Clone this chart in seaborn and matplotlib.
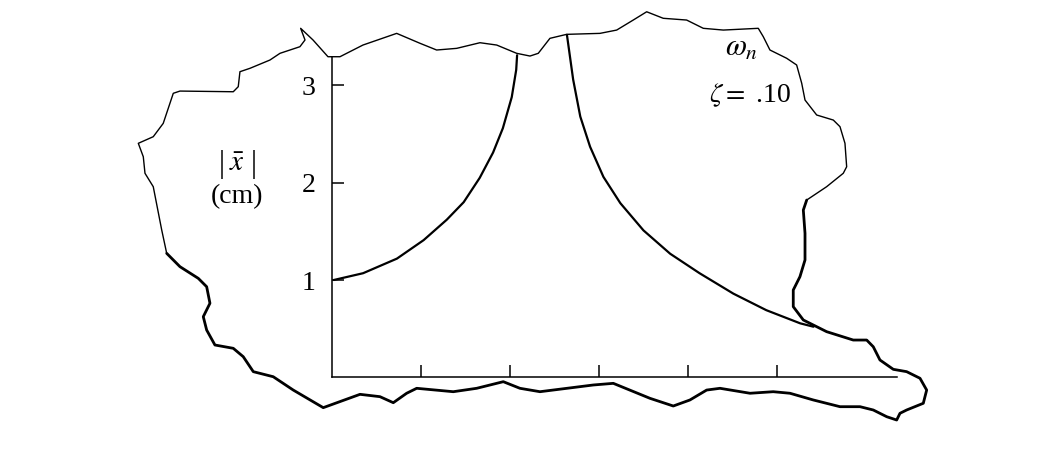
import matplotlib
matplotlib.use('Agg')
import matplotlib.pyplot as plt
import seaborn as sns

sns.set_style('white')
plt.rcParams['font.family'] = ['Liberation Serif', 'DejaVu Serif']
plt.rcParams['mathtext.fontset'] = 'stix'
plt.rcParams['text.color'] = 'black'
plt.rcParams['ytick.color'] = 'black'
plt.rcParams['xtick.color'] = 'black'

#%% data (x in tick units, y in cm)
left_x = [0.02, 0.35, 0.73, 1.03, 1.29, 1.48, 1.66, 1.81, 1.92, 2.02, 2.07, 2.08]
left_y = [1.00, 1.07, 1.22, 1.41, 1.62, 1.80, 2.05, 2.31, 2.56, 2.88, 3.16, 3.31]

right_x = [2.64, 2.71, 2.79, 2.90, 3.05, 3.24, 3.50, 3.80, 4.13, 4.51, 4.88, 5.26, 5.41]
right_y = [3.52, 3.06, 2.68, 2.37, 2.06, 1.79, 1.51, 1.27, 1.07, 0.86, 0.69, 0.555, 0.52]

y_ticks = [1, 2, 3]
y_ticklabels = ['1', '2', '3']
x_ticks = [1, 2, 3, 4, 5]

# torn paper edge, upper part (thin line)
edge_top_x = [-1.857, -1.913, -2.008, -2.101, -2.120, -2.176, -2.008, -1.896, -1.783,
              -1.708, -1.109, -1.053, -1.034, -0.921, -0.697, -0.584, -0.360, -0.303,
              -0.352, -0.213, -0.045, 0.090, 0.348, 0.727, 0.989, 1.176, 1.401, 1.663,
              1.851, 2.075, 2.225, 2.318, 2.449, 2.637, 3.011, 3.199, 3.385, 3.536,
              3.722, 3.985, 4.172, 4.397, 4.790, 4.846, 4.921, 5.109, 5.221, 5.278,
              5.315, 5.446, 5.633, 5.708, 5.764, 5.783, 5.745, 5.558, 5.334]
edge_top_y = [1.274, 1.514, 1.959, 2.097, 2.267, 2.405, 2.473, 2.610, 2.919,
              2.942, 2.935, 2.987, 3.141, 3.176, 3.261, 3.330, 3.398, 3.467,
              3.587, 3.467, 3.295, 3.295, 3.415, 3.535, 3.433, 3.364, 3.381, 3.439,
              3.415, 3.330, 3.302, 3.330, 3.484, 3.525, 3.535, 3.569, 3.672, 3.757,
              3.690, 3.672, 3.587, 3.569, 3.587, 3.501, 3.364, 3.279, 3.210, 3.022,
              2.850, 2.696, 2.644, 2.576, 2.405, 2.164, 2.097, 1.959, 1.822]

# torn paper edge, lower part (heavier line)
edge_bot_x = [5.334, 5.296, 5.315, 5.315, 5.258, 5.183, 5.183, 5.296, 5.558, 5.857,
              6.008, 6.082, 6.157, 6.307, 6.457, 6.607, 6.682, 6.644, 6.457, 6.382,
              6.345, 6.233, 6.082, 5.933, 5.708, 5.408, 5.146, 4.958, 4.697, 4.360,
              4.210, 4.022, 3.835, 3.573, 3.161, 2.936, 2.337, 2.112, 1.925, 1.626,
              1.363, 0.952, 0.839, 0.689, 0.539, 0.315, -0.098, -0.435, -0.660,
              -0.884, -0.997, -1.109, -1.315, -1.408, -1.446, -1.371, -1.408, -1.502,
              -1.708, -1.857]
edge_bot_y = [1.822, 1.719, 1.480, 1.206, 1.034, 0.897, 0.726, 0.589, 0.469, 0.383,
              0.383, 0.314, 0.178, 0.082, 0.058, -0.010, -0.131, -0.267, -0.336, -0.370,
              -0.439, -0.405, -0.336, -0.302, -0.302, -0.233, -0.164, -0.148, -0.164, -0.113,
              -0.131, -0.233, -0.295, -0.216, -0.062, -0.079, -0.148, -0.113, -0.045, -0.113,
              -0.148, -0.113, -0.164, -0.261, -0.199, -0.175, -0.312, -0.131, 0.006,
              0.058, 0.212, 0.298, 0.332, 0.486, 0.623, 0.761, 0.931, 1.017,
              1.137, 1.274]

#%% plot
fig = plt.figure(figsize=(10.64, 4.71), dpi=100)
ax = fig.add_axes([0, 0, 1, 1])

line_kw = dict(sort=False, estimator=None, ax=ax, color='black',
               solid_joinstyle='round', solid_capstyle='round')
sns.lineplot(x=edge_top_x, y=edge_top_y, linewidth=1.0, **line_kw)
sns.lineplot(x=edge_bot_x, y=edge_bot_y, linewidth=2.0, **line_kw)
sns.lineplot(x=left_x, y=left_y, linewidth=1.6, **line_kw)
sns.lineplot(x=right_x, y=right_y, linewidth=1.6, **line_kw)

ax.set_xlim(-3.730, 8.225)
ax.set_ylim(-0.963, 3.878)

for side in ['top', 'right']:
    ax.spines[side].set_visible(False)
ax.spines['left'].set_position(('data', 0))
ax.spines['bottom'].set_position(('data', 0))
ax.spines['left'].set_bounds(0, 3.29)
ax.spines['bottom'].set_bounds(0, 6.35)
for side in ['left', 'bottom']:
    ax.spines[side].set_color('black')
    ax.spines[side].set_linewidth(1.1)

ax.set_yticks(y_ticks)
ax.set_yticklabels(y_ticklabels)
ax.set_xticks(x_ticks)
ax.set_xticklabels([])
ax.tick_params(axis='y', direction='in', length=8.5, width=1.1, pad=12,
               labelsize=20, left=True, colors='black')
ax.tick_params(axis='x', direction='in', length=9, width=1.1, bottom=True,
               colors='black')

# y label |x| (cm): bars as plain text so they come out tall
ax.text(-1.239, 2.19, '|', fontsize=22, ha='center', va='center', color='black')
ax.text(-1.067, 2.19, r'$\bar{x}$', fontsize=21, ha='center', va='center', color='black')
ax.text(-0.884, 2.19, '|', fontsize=22, ha='center', va='center', color='black')
ax.text(-1.067, 1.853, '(cm)', fontsize=20, ha='center', va='center', color='black')

ax.text(4.60, 3.384, r'$\omega_n$', fontsize=22, ha='center', va='center', color='black')
ax.text(4.70, 2.90, r'$\zeta =$ .10', fontsize=20, ha='center', va='center', color='black')

fig.savefig('out.png', dpi=100, facecolor='white')
